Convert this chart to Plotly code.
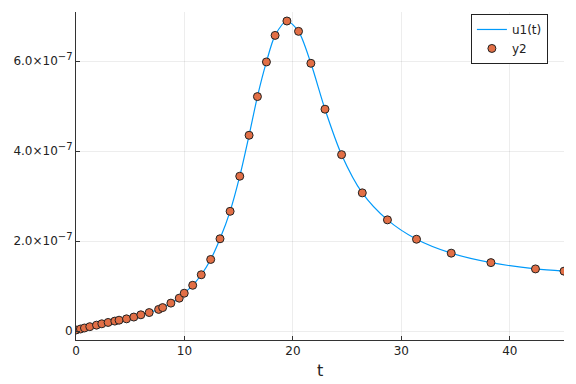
import plotly.graph_objects as go

t_vals = [0.0, 0.41, 0.78, 1.27, 1.89, 2.38, 2.96, 3.58, 3.97, 4.66, 5.33, 5.98, 6.75,
          7.62, 7.99, 8.75, 9.52, 9.98, 10.76, 11.55, 12.42, 13.28, 14.21, 15.10, 15.96,
          16.73, 17.56, 18.36, 19.45, 20.52, 21.66, 22.96, 24.49, 26.40, 28.72, 31.40,
          34.60, 38.26, 42.37, 45.0]
y_vals_e7 = [0.022, 0.044, 0.067, 0.096, 0.13, 0.16, 0.19, 0.22, 0.24, 0.27, 0.31, 0.36,
             0.41, 0.48, 0.52, 0.62, 0.73, 0.84, 1.016, 1.25, 1.59, 2.05, 2.66, 3.44,
             4.35, 5.21, 5.98, 6.57, 6.89, 6.66, 5.95, 4.93, 3.92, 3.07, 2.47, 2.04,
             1.73, 1.52, 1.38, 1.33]
y_vals = [v * 1e-7 for v in y_vals_e7]

ytick_vals = [0, 2e-7, 4e-7, 6e-7]
ytick_text = ["0",
              "2.0×10<sup><span style='font-size:10px'>−7</span></sup>",
              "4.0×10<sup><span style='font-size:10px'>−7</span></sup>",
              "6.0×10<sup><span style='font-size:10px'>−7</span></sup>"]
xtick_vals = [0, 10, 20, 30, 40]

fig = go.Figure()
fig.add_trace(go.Scatter(x=t_vals, y=y_vals, mode="lines", name="u1(t)",
                         line=dict(color="#009AFA", width=1.2, shape="spline", smoothing=0.8)))
fig.add_trace(go.Scatter(x=t_vals, y=y_vals, mode="markers", name="y2",
                         marker=dict(color="#E26F46", size=8,
                                     line=dict(color="#222222", width=1))))

fig.update_layout(
    width=576, height=384,
    margin=dict(l=76, r=12, t=12, b=44),
    paper_bgcolor="white", plot_bgcolor="white",
    font=dict(family="DejaVu Sans", size=12, color="#222222"),
    showlegend=True,
    legend=dict(x=0.967, y=0.994, xanchor="right", yanchor="top",
                bgcolor="white", bordercolor="#222222", borderwidth=1,
                font=dict(size=12), tracegroupgap=0, itemwidth=30),
    xaxis=dict(range=[0, 45], tickvals=xtick_vals, showgrid=True, automargin=False,
               gridcolor="rgba(0,0,0,0.07)", showline=True, linecolor="#333333",
               linewidth=1, ticks="inside", ticklen=4, tickcolor="#333333",
               zeroline=False),
    yaxis=dict(range=[-0.2e-7, 7.09e-7], tickvals=ytick_vals, ticktext=ytick_text,
               automargin=False,
               showgrid=True, gridcolor="rgba(0,0,0,0.07)", showline=True,
               linecolor="#333333", linewidth=1, ticks="inside", ticklen=4,
               tickcolor="#333333", zeroline=False),
    annotations=[dict(text="t", xref="paper", yref="paper", x=0.5, y=0,
                      xanchor="center", yanchor="middle", yshift=-30,
                      showarrow=False, font=dict(size=16))],
)

fig.write_html("out.html")
